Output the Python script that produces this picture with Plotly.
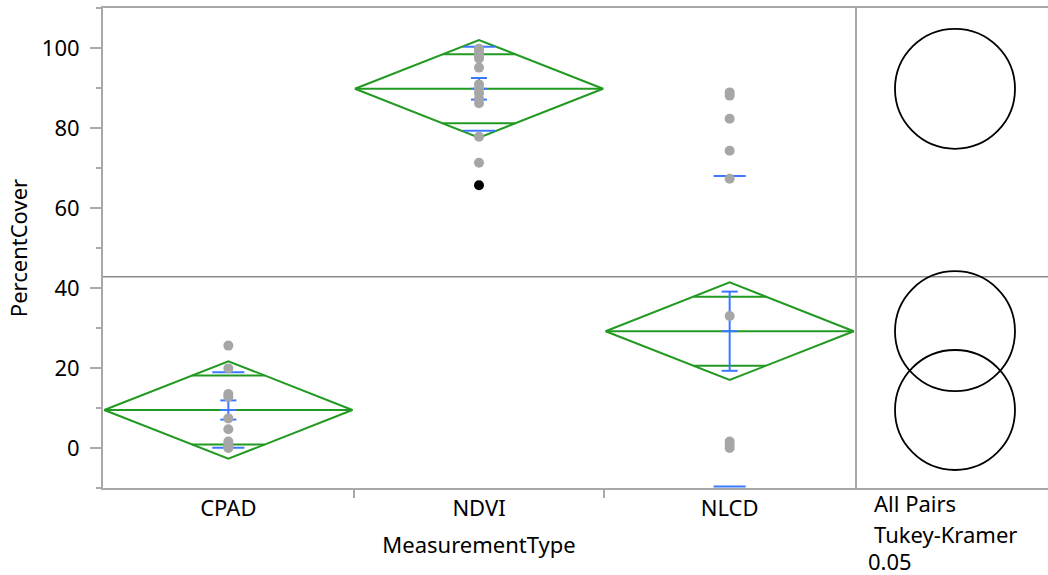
import math
import plotly.graph_objects as go

# ---- data -------------------------------------------------------------
categories = ["CPAD", "NDVI", "NLCD"]

cpad_values = [25.6, 19.9, 13.5, 12.8, 7.4, 4.7, 1.6, 1.0, 0.4, 0.0]
ndvi_values = [99.8, 99.0, 98.2, 97.4, 95.1, 90.9, 89.8, 88.7, 87.3, 86.2, 77.8, 71.3]
ndvi_marked = [65.7]
nlcd_values = [88.9, 88.1, 82.3, 74.3, 67.3, 33.0, 1.6, 0.8, 0.0]

group_means = [9.5, 89.8, 29.2]
ci_half_width = [12.2, 12.2, 12.2]
std_devs = [9.45, 10.5, 38.8]
std_errs = [2.4, 2.7, 9.9]
grand_mean = 42.8
circle_radius = [15.0, 15.0, 15.0]

y_tick_values = [0, 20, 40, 60, 80, 100]
comparison_labels = ["All Pairs", "Tukey-Kramer", "0.05"]

# ---- styling ----------------------------------------------------------
FONT = "Noto Sans"
FS = 22
GREEN = "#229a22"
BLUE = "#3b78ff"
DOT = "#a6a6a6"
FRAME = "#a9a9a9"

fig = go.Figure()

# means diamonds with overlap marks
dx, dy = [], []
for i, (m, c) in enumerate(zip(group_means, ci_half_width)):
    half = 0.495
    dx += [i - half, i, i + half, i, i - half, None, i - half, i + half, None]
    dy += [m, m + c, m, m - c, m, None, m, m, None]
    h = c / math.sqrt(2)
    w = half * (1 - h / c)
    dx += [i - w, i + w, None, i - w, i + w, None]
    dy += [m + h, m + h, None, m - h, m - h, None]
fig.add_trace(go.Scatter(x=dx, y=dy, mode="lines", xaxis="x", yaxis="y",
                         line=dict(color=GREEN, width=2), hoverinfo="skip"))

# std dev lines and mean error bars
bx, by = [], []
sd_w, cap_w = 0.064, 0.032
for i, (m, sd, se) in enumerate(zip(group_means, std_devs, std_errs)):
    for v in (m + sd, m - sd):
        bx += [i - sd_w, i + sd_w, None]
        by += [v, v, None]
    for v in (m + se, m, m - se):
        bx += [i - cap_w, i + cap_w, None]
        by += [v, v, None]
    bx += [i, i, None]
    by += [m - se, m + se, None]
fig.add_trace(go.Scatter(x=bx, y=by, mode="lines", xaxis="x", yaxis="y",
                         line=dict(color=BLUE, width=2), hoverinfo="skip"))

# observations
for i, vals in enumerate([cpad_values, ndvi_values, nlcd_values]):
    fig.add_trace(go.Scatter(x=[i] * len(vals), y=vals, mode="markers",
                             xaxis="x", yaxis="y",
                             marker=dict(color=DOT, size=10, line=dict(width=0))))
fig.add_trace(go.Scatter(x=[1] * len(ndvi_marked), y=ndvi_marked, mode="markers",
                         xaxis="x", yaxis="y",
                         marker=dict(color="black", size=10, line=dict(width=0))))

# comparison circles panel
panel_px = 193
units = panel_px / 4.0
cx = 25.0
fig.add_trace(go.Scatter(x=[cx], y=[grand_mean], mode="markers", xaxis="x2", yaxis="y",
                         marker=dict(size=1, opacity=0), hoverinfo="skip"))
shapes = []
for m, r in zip(group_means, circle_radius):
    shapes.append(dict(type="circle", xref="x2", yref="y",
                       x0=cx - r, x1=cx + r, y0=m - r, y1=m + r,
                       line=dict(color="black", width=1.8)))
shapes.append(dict(type="line", xref="paper", yref="y", x0=0, x1=1,
                   y0=grand_mean, y1=grand_mean,
                   line=dict(color="#8a8a8a", width=1.6), layer="below"))

W, H = 1048, 575
L, B, T = 103, 87, 8
plot_w = W - L
split = 752 / plot_w

annotations = []
for txt, xp, yp in zip(comparison_labels, [872, 872, 866], [503, 534, 561]):
    annotations.append(dict(text=txt, xref="paper", yref="paper",
                            x=(xp - L) / plot_w, y=(H - B - yp) / (H - B - T),
                            xanchor="left", yanchor="middle", showarrow=False,
                            font=dict(family=FONT, size=FS, color="black")))

fig.update_layout(
    width=W, height=H,
    margin=dict(l=L, r=0, t=T, b=B),
    plot_bgcolor="white", paper_bgcolor="white",
    showlegend=False,
    font=dict(family=FONT, size=FS, color="black"),
    shapes=shapes,
    annotations=annotations,
    xaxis=dict(domain=[0, split], range=[-0.5, 2.5],
               tickvals=[0, 1, 2], ticktext=categories, ticks="",
               showline=True, linecolor=FRAME, linewidth=2, mirror=True,
               showgrid=False, zeroline=False,
               minor=dict(tickvals=[0.5, 1.5], ticks="outside", ticklen=8,
                          tickcolor=FRAME, tickwidth=1.5),
               title=dict(text="MeasurementType", standoff=16,
                          font=dict(family=FONT, size=FS)),
               automargin=False),
    xaxis2=dict(domain=[split, 1], range=[0, units], anchor="y",
                showticklabels=False, ticks="", showgrid=False, zeroline=False,
                showline=True, linecolor=FRAME, linewidth=2, mirror=True),
    yaxis=dict(range=[-10, 110], tickvals=y_tick_values, ticks="outside",
               ticklen=11, tickcolor=FRAME, tickwidth=1.5,
               showline=True, linecolor=FRAME, linewidth=2, mirror=True,
               showgrid=False, zeroline=False, ticklabelstandoff=6,
               minor=dict(dtick=10, tick0=-10, ticks="outside", ticklen=5,
                          tickcolor=FRAME, tickwidth=1.5),
               title=dict(text="PercentCover", standoff=8,
                          font=dict(family=FONT, size=FS)),
               automargin=False),
)

fig.write_html("out.html")
